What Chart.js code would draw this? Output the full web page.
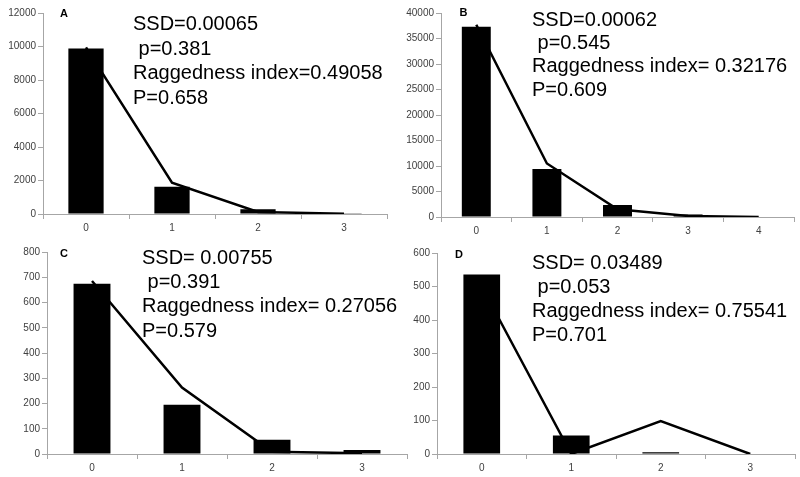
<!DOCTYPE html>
<html>
<head>
<meta charset="utf-8">
<script src="https://cdn.jsdelivr.net/npm/chart.js@4"></script>
<style>
  html, body { margin: 0; padding: 0; background: #fff; }
  #wrap { position: relative; width: 800px; height: 477px; overflow: hidden; font-family: "Liberation Sans", Arial, sans-serif; }
  canvas { position: absolute; }
  .stats { position: absolute; font-size: 20px; line-height: 24px; white-space: pre; color: #000; }
  .letter { position: absolute; font-size: 11px; font-weight: bold; transform: translate(-50%, -50%); color: #000; }
</style>
</head>
<body>
<div id="wrap">
  <canvas id="cA"></canvas>
  <canvas id="cB"></canvas>
  <canvas id="cC"></canvas>
  <canvas id="cD"></canvas>
</div>
<script>
// mismatch classes (bars = observed, line = expected)
const catsA = ["0", "1", "2", "3"];
const obsA = [9880, 1630, 280, 40];
const expA = [9950, 1870, 120, 20];
const statsA = ["SSD=0.00065", " p=0.381", "Raggedness index=0.49058", "P=0.658"];

const catsB = ["0", "1", "2", "3", "4"];
const obsB = [37300, 9400, 2350, 500, 100];
const expB = [37700, 10500, 1500, 200, 0];
const statsB = ["SSD=0.00062", " p=0.545", "Raggedness index= 0.32176", "P=0.609"];

const catsC = ["0", "1", "2", "3"];
const obsC = [674, 195, 56, 16];
const expC = [685, 263, 9, 3];
const statsC = ["SSD= 0.00755", " p=0.391", "Raggedness index= 0.27056", "P=0.579"];

const catsD = ["0", "1", "2", "3"];
const obsD = [536, 55, 5, 0];
const expD = [500, 0, 98, 0];
const statsD = ["SSD= 0.03489", " p=0.053", "Raggedness index= 0.75541", "P=0.701"];

const AXIS = "#a6a6a6";
const FONT = "'Liberation Sans', Arial, sans-serif";
const wrap = document.getElementById("wrap");

function panel(id, box, area, labels, obs, exp, yMax, yStep, letter, letterPos, stats, statsPos) {
  const cv = document.getElementById(id);
  cv.width = box.w; cv.height = box.h;
  cv.style.left = box.x + "px"; cv.style.top = box.y + "px";
  cv.style.width = box.w + "px"; cv.style.height = box.h + "px";

  new Chart(cv.getContext("2d"), {
    type: "bar",
    data: {
      labels,
      datasets: [
        { type: "line", data: exp, borderColor: "#000", borderWidth: 2.5, pointRadius: 0, tension: 0, order: 0 },
        { data: obs, backgroundColor: "#000", barPercentage: 0.41, categoryPercentage: 1, order: 1 }
      ]
    },
    options: {
      responsive: false,
      animation: false,
      devicePixelRatio: 1,
      layout: { padding: { left: 0, top: area.top, right: box.w - area.right, bottom: 0 } },
      plugins: { legend: { display: false }, tooltip: { enabled: false } },
      scales: {
        x: {
          afterFit: s => { s.height = box.h - area.bottom; },
          grid: { display: true, drawOnChartArea: false, drawTicks: true, tickLength: 5, color: AXIS, offset: true },
          border: { display: true, color: AXIS, width: 1 },
          ticks: { font: { family: FONT, size: 10 }, color: "#404040", padding: 3, maxRotation: 0 }
        },
        y: {
          min: 0, max: yMax,
          afterFit: s => { s.width = area.left; },
          grid: { display: true, drawOnChartArea: false, drawTicks: true, tickLength: 5, color: AXIS },
          border: { display: true, color: AXIS, width: 1 },
          ticks: { stepSize: yStep, font: { family: FONT, size: 10 }, color: "#404040", padding: 2, callback: v => String(v) }
        }
      }
    }
  });

  const l = document.createElement("div");
  l.className = "letter";
  l.textContent = letter;
  l.style.left = letterPos[0] + "px"; l.style.top = letterPos[1] + "px";
  wrap.appendChild(l);

  const t = document.createElement("div");
  t.className = "stats";
  t.textContent = stats.join("\n");
  t.style.left = statsPos[0] + "px"; t.style.top = statsPos[1] + "px";
  t.style.lineHeight = statsPos[2] + "px";
  wrap.appendChild(t);
}

panel("cA", { x: 0, y: 0, w: 400, h: 240 }, { left: 43, right: 387, top: 13, bottom: 214 },
  catsA, obsA, expA, 12000, 2000, "A", [64, 12.5], statsA, [133, 11, 24.5]);
panel("cB", { x: 400, y: 0, w: 400, h: 240 }, { left: 41, right: 394, top: 13, bottom: 217 },
  catsB, obsB, expB, 40000, 5000, "B", [463.5, 12], statsB, [532, 7.5, 23.4]);
panel("cC", { x: 0, y: 238, w: 410, h: 239 }, { left: 47, right: 407, top: 14, bottom: 216 },
  catsC, obsC, expC, 800, 100, "C", [64, 252.5], statsC, [142, 245, 24.2]);
panel("cD", { x: 400, y: 238, w: 400, h: 239 }, { left: 37, right: 395, top: 15, bottom: 216 },
  catsD, obsD, expD, 600, 100, "D", [459, 254], statsD, [532, 249.5, 24]);
</script>
</body>
</html>
